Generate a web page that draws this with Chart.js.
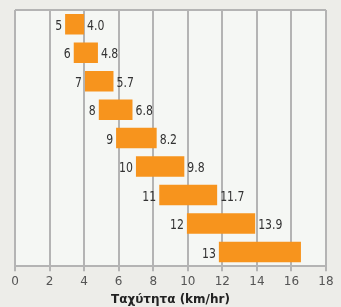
<!DOCTYPE html>
<html>
<head>
<meta charset="utf-8">
<script src="https://cdn.jsdelivr.net/npm/chart.js@4"></script>
<style>
  html, body { margin: 0; padding: 0; background: #edede9; }
  #wrap { width: 341px; height: 307px; position: relative; }
</style>
</head>
<body>
<div id="wrap"><canvas id="myChart"></canvas></div>
<script>
const categories = ['5', '6', '7', '8', '9', '10', '11', '12', '13']
const starts = [2.9, 3.4, 4.05, 4.85, 5.85, 7.0, 8.35, 9.95, 11.8]
const ends = [4.0, 4.8, 5.7, 6.8, 8.2, 9.8, 11.7, 13.9, 16.55]
const endLabels = ['4.0', '4.8', '5.7', '6.8', '8.2', '9.8', '11.7', '13.9', '']
const xTicks = [0, 2, 4, 6, 8, 10, 12, 14, 16, 18]

const fontFamily = "'DejaVu Sans', sans-serif"
const squeeze = 0.78

const plotBg = {
    id: 'plotBg',
    beforeDraw: (chart) => {
        const { ctx, chartArea } = chart
        ctx.save()
        ctx.fillStyle = '#f5f7f4'
        ctx.fillRect(chartArea.left, chartArea.top, chartArea.right - chartArea.left, chartArea.bottom - chartArea.top)
        ctx.strokeStyle = '#b4b4b4'
        ctx.lineWidth = 2
        ctx.beginPath()
        ctx.moveTo(chartArea.left, chartArea.top)
        ctx.lineTo(chartArea.right, chartArea.top)
        ctx.stroke()
        ctx.restore()
    }
}

// narrow text, the reference uses a condensed face
let narrowText = (ctx, text, x, y, align) => {
    ctx.save()
    ctx.translate(x, y)
    ctx.scale(squeeze, 1)
    ctx.textAlign = align
    ctx.fillText(text, 0, 0)
    ctx.restore()
}

const barLabels = {
    id: 'barLabels',
    afterDatasetsDraw: (chart) => {
        const { ctx } = chart
        const x = chart.scales.x
        const y = chart.scales.y
        ctx.save()
        ctx.font = '14px ' + fontFamily
        ctx.fillStyle = '#333333'
        ctx.textBaseline = 'middle'
        categories.forEach((c, i) => {
            const py = y.getPixelForValue(i) + 2
            narrowText(ctx, c, x.getPixelForValue(starts[i]) - 3, py, 'right')
            narrowText(ctx, endLabels[i], x.getPixelForValue(ends[i]) + 3, py, 'left')
        })
        ctx.restore()
    }
}

const ctxBar = document.getElementById('myChart')

const datasetBar = {
    labels: categories,
    datasets: [{
        data: starts.map((s, i) => [s, ends[i]]),
        backgroundColor: '#f7941d',
        borderWidth: 0,
        categoryPercentage: 1,
        barPercentage: 0.72
    }]
}

const configBar = {
    type: 'bar',
    data: datasetBar,
    options: {
        indexAxis: 'y',
        responsive: true,
        maintainAspectRatio: false,
        animation: false,
        layout: { padding: { left: 15, right: 15, top: 10, bottom: 0 } },
        plugins: { legend: { display: false }, tooltip: { enabled: false } },
        scales: {
            x: {
                min: 0,
                max: 18,
                afterBuildTicks: (axis) => { axis.ticks = xTicks.map(v => ({ value: v })) },
                grid: { color: '#b4b4b4', lineWidth: 2, tickLength: 5 },
                border: { color: '#b4b4b4', width: 2 },
                ticks: { color: '#555555', font: { family: fontFamily, size: 12 }, padding: 3 },
                title: {
                    display: true,
                    text: 'Ταχύτητα (km/hr)',
                    color: '#222222',
                    font: { family: fontFamily, size: 12, weight: 'bold' },
                    padding: { top: 1, bottom: 0 }
                }
            },
            y: {
                display: false,
                offset: true
            }
        }
    },
    plugins: [plotBg, barLabels]
}

const chartBar = new Chart(ctxBar, configBar)
</script>
</body>
</html>
